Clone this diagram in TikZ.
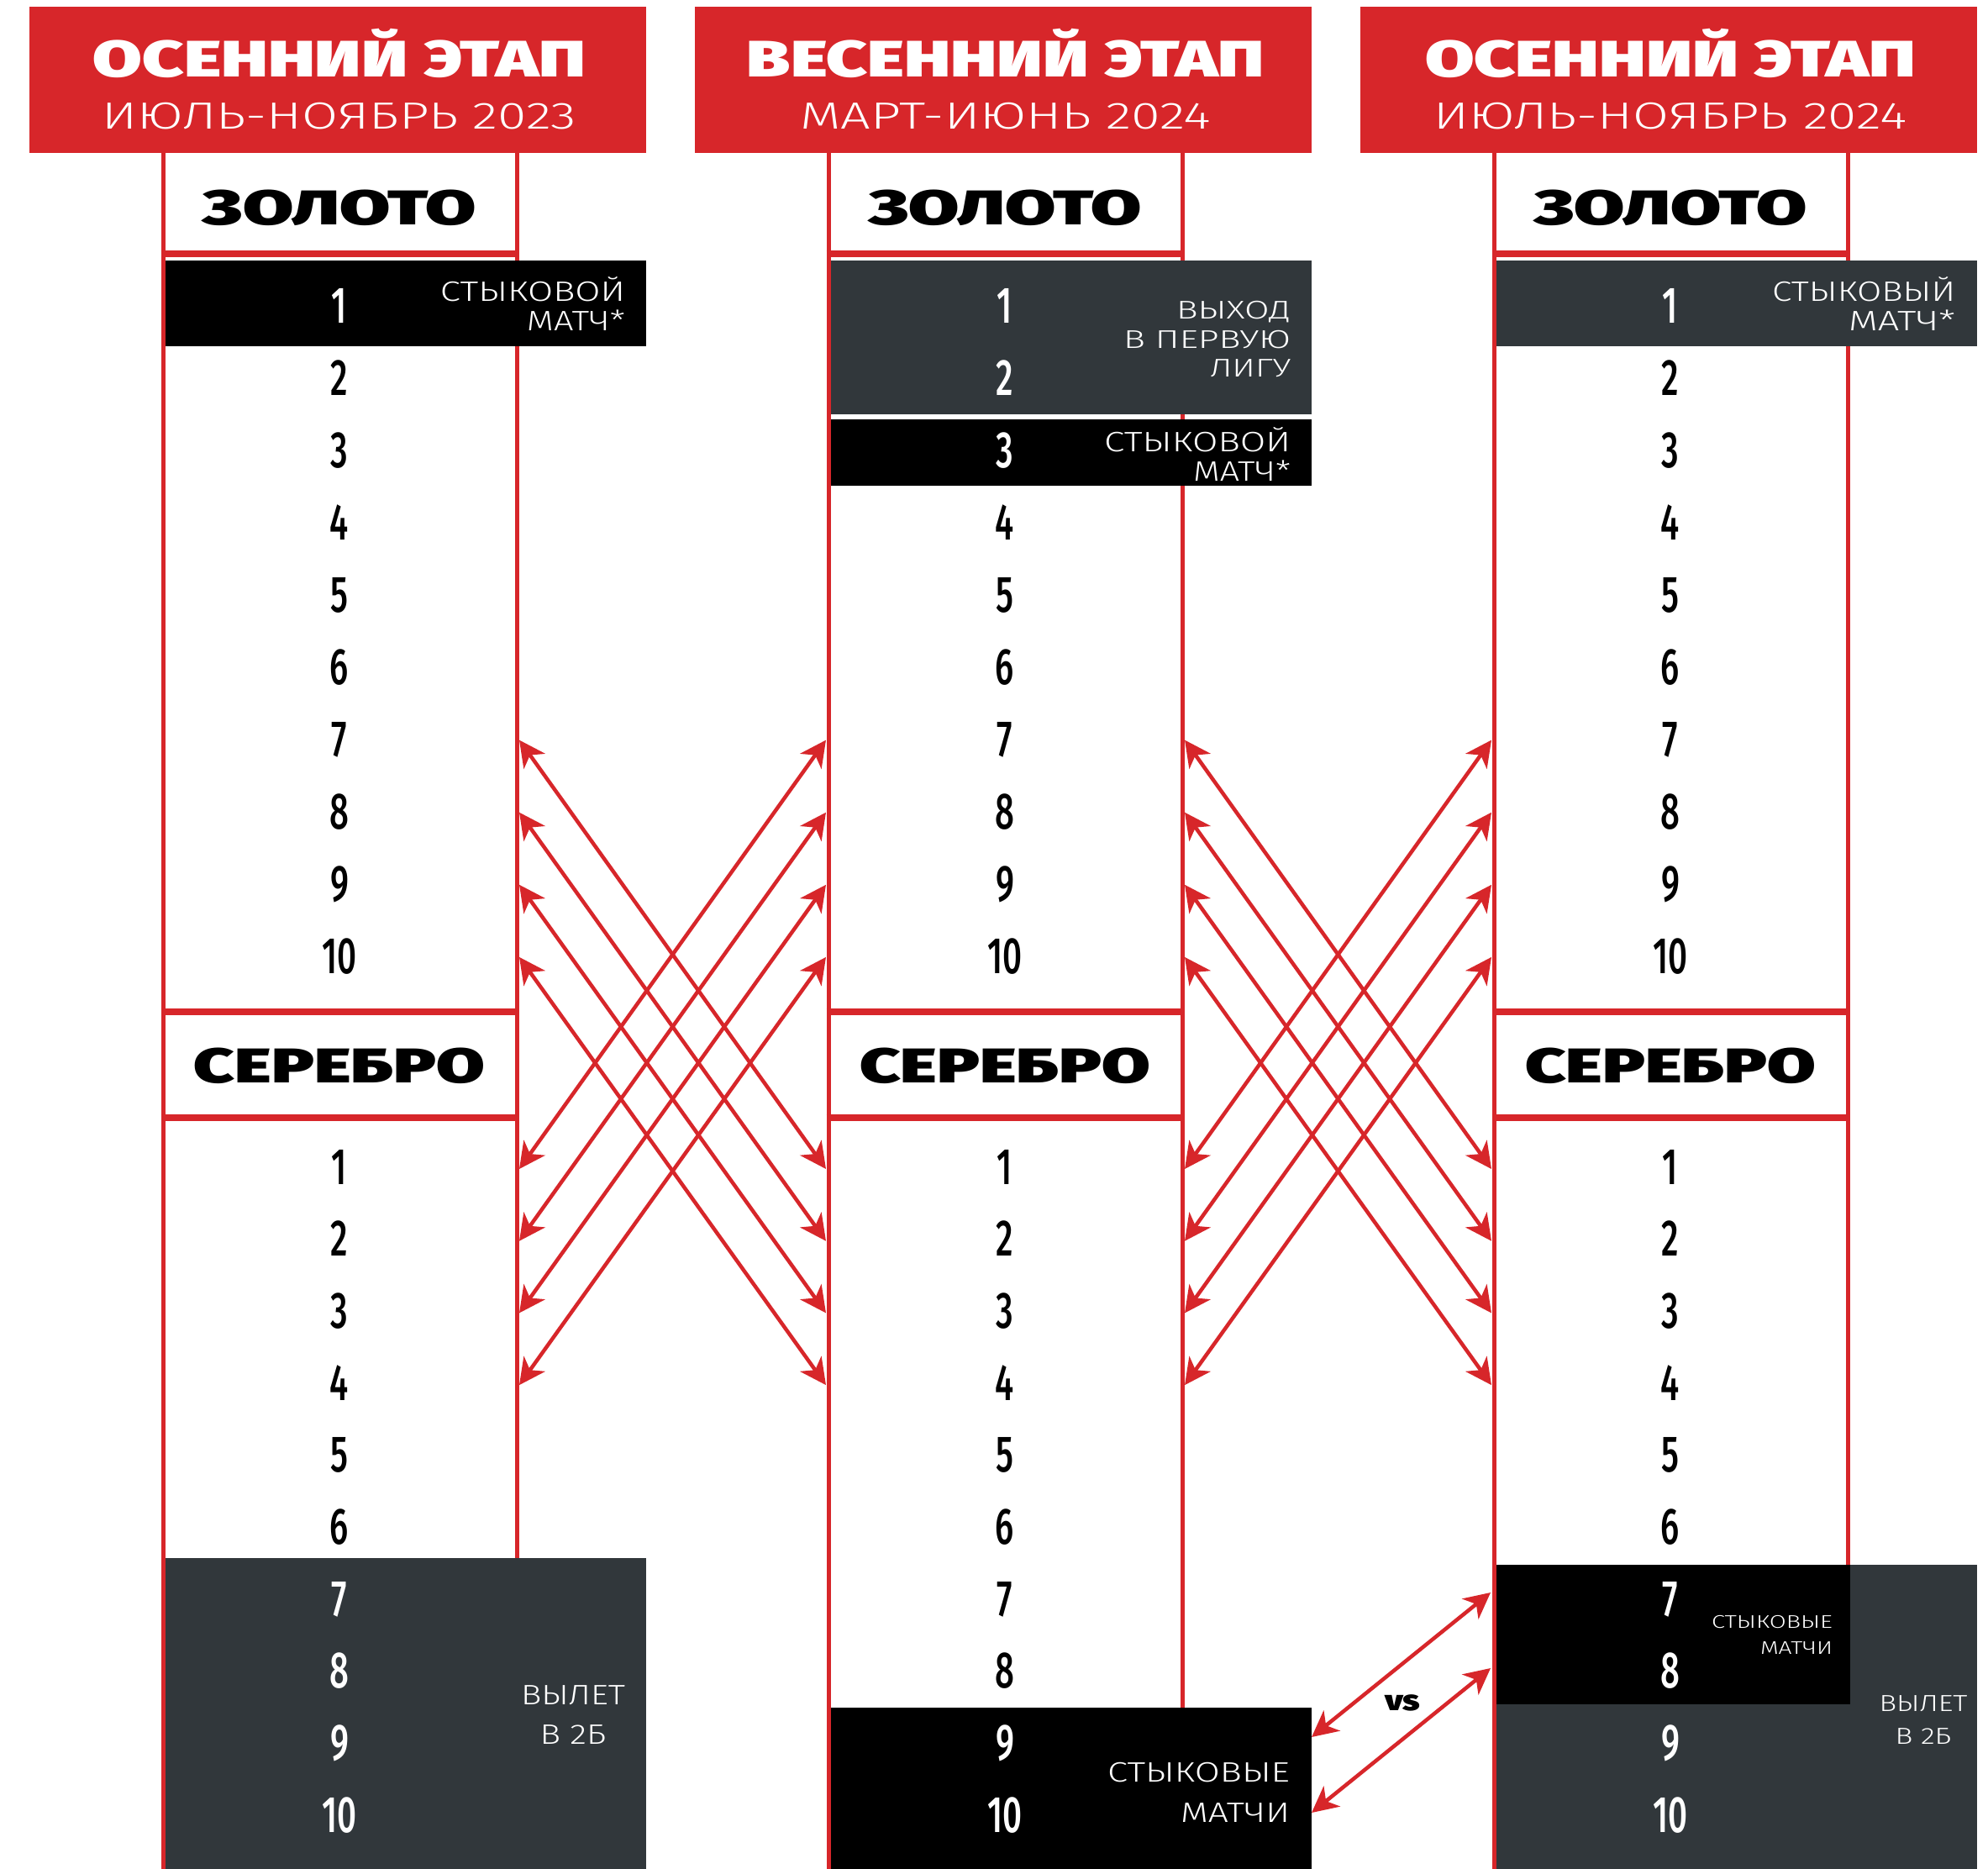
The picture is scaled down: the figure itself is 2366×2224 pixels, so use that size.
\documentclass[tikz,border=0pt]{standalone}
\usepackage{fontspec}
\usepackage{graphicx}
\usetikzlibrary{arrows.meta}
\setmainfont{Fira Sans}
\newfontfamily\heavyfont{Fira Sans Black}
\newfontfamily\lightfont{Fira Sans Light}
\newfontfamily\numfont{Fira Sans Medium}
\definecolor{redc}{RGB}{215,38,42}
\definecolor{grayc}{RGB}{49,55,59}
\newcommand\fitw[2]{\resizebox{#1}{\height}{#2}}
\newcommand\hv[2]{\fitw{#1}{\heavyfont\fontsize{61}{61}\selectfont #2}}
\newcommand\sub[2]{\fitw{#1}{\lightfont\fontsize{45}{45}\selectfont #2}}
\newcommand\blk[2]{\fitw{#1}{\heavyfont\fontsize{58}{58}\selectfont #2}}
\newcommand\lt[3]{\fitw{#2}{\lightfont\fontsize{#1}{#1}\selectfont #3}}
\newcommand\dg[1]{\scalebox{0.66}[1]{\numfont\fontsize{61}{61}\selectfont #1}}
\begin{document}
\begin{tikzpicture}[x=1pt,y=-1pt,
  vline/.style={draw=redc,line width=5pt},
  hline/.style={draw=redc,line width=8pt},
  txt/.style={inner sep=0pt,outer sep=0pt,anchor=base},
  wl/.style={txt,text=white,anchor=base east},
  wc/.style={txt,text=white},
  num/.style={txt},
  arr/.style={draw=redc,line width=4.5pt,
    {Stealth[length=31pt,width=31pt,inset=9pt]}-{Stealth[length=31pt,width=31pt,inset=9pt]}}]
\fill[white] (0,0) rectangle (2366,2224);
\useasboundingbox (0,0) rectangle (2366,2224);

% column frames
\foreach \c in {0,1,2}{
  \draw[vline] ({194+792*\c},182) -- ({194+792*\c},2224);
  \draw[vline] ({615+792*\c},182) -- ({615+792*\c},2224);
  \draw[hline] ({191.5+792*\c},302) -- ({617.5+792*\c},302);
  \draw[hline] ({191.5+792*\c},1204) -- ({617.5+792*\c},1204);
  \draw[hline] ({191.5+792*\c},1330) -- ({617.5+792*\c},1330);
  \fill[redc] ({35+792*\c},8) rectangle ({769+792*\c},182);
}

% highlighted boxes
\fill[black] (196.5,310) rectangle (769,412);
\fill[grayc] (196.5,1854) rectangle (769,2224);
\fill[grayc] (988.5,310) rectangle (1561,493);
\fill[black] (988.5,499) rectangle (1561,578);
\fill[black] (988.5,2032) rectangle (1561,2224);
\fill[grayc] (1780.5,310) rectangle (2353,412);
\fill[grayc] (1780.5,1862) rectangle (2353,2224);
\fill[black] (1780.5,1862) rectangle (2202,2028);

% headers
\node[wc] (t0) at (404,92) {\hv{586pt}{ОСЕННИЙ ЭТАП}};
\node[wc] (u0) at (404,153) {\sub{564pt}{ИЮЛЬ-НОЯБРЬ 2023}};
\node[wc] (t1) at (1197,92) {\hv{616pt}{ВЕСЕННИЙ ЭТАП}};
\node[wc] (u1) at (1197,153) {\sub{489pt}{МАРТ-ИЮНЬ 2024}};
\node[wc] (t2) at (1988,92) {\hv{584pt}{ОСЕННИЙ ЭТАП}};
\node[wc] (u2) at (1988,153) {\sub{563pt}{ИЮЛЬ-НОЯБРЬ 2024}};

% league titles
\foreach \c in {0,1,2}{
  \node[txt] (gold\c) at ({404+792*\c},267) {\blk{326pt}{ЗОЛОТО}};
  \node[txt] (silv\c) at ({404+792*\c},1288) {\blk{346pt}{СЕРЕБРО}};
}

% numbers
\foreach \c in {0,1,2}{
  \foreach \k in {1,...,10}{
    \def\tc{black}
    \ifnum\k=1 \def\tc{white}\fi
    \ifnum\c=1 \ifnum\k<4 \def\tc{white}\fi\fi
    \node[num,text=\tc] (ng\c-\k) at ({404+792*\c},{384+86.1*(\k-1)}) {\dg{\k}};
    \def\sc{black}
    \ifnum\c=1 \ifnum\k>8 \def\sc{white}\fi\else\ifnum\k>6 \def\sc{white}\fi\fi
    \node[num,text=\sc] (ns\c-\k) at ({404+792*\c},{1409+85.7*(\k-1)}) {\dg{\k}};
  }
}

% labels
\node[wl] (l01) at (744,358) {\lt{33.4}{220pt}{СТЫКОВОЙ}};
\node[wl] (l02) at (744,393) {\lt{33.4}{117pt}{МАТЧ*}};
\node[wl] (l11) at (1536,379) {\lt{30.5}{136pt}{ВЫХОД}};
\node[wl] (l12) at (1536,414) {\lt{30.5}{199pt}{В ПЕРВУЮ}};
\node[wl] (l13) at (1536,448) {\lt{30.5}{96pt}{ЛИГУ}};
\node[wl] (l14) at (1536,537) {\lt{33.4}{222pt}{СТЫКОВОЙ}};
\node[wl] (l15) at (1536,572) {\lt{33.4}{116pt}{МАТЧ*}};
\node[wl] (l21) at (2327,358) {\lt{33.4}{218pt}{СТЫКОВЫЙ}};
\node[wl] (l22) at (2327,393) {\lt{33.4}{127pt}{МАТЧ*}};
\node[wc] (m01) at (682,2028) {\lt{33.4}{124pt}{ВЫЛЕТ}};
\node[wc] (m02) at (682,2075) {\lt{33.4}{79pt}{В 2Б}};
\node[wl] (m11) at (1535,2120) {\lt{33.4}{217pt}{СТЫКОВЫЕ}};
\node[wl] (m12) at (1535,2168) {\lt{33.4}{130pt}{МАТЧИ}};
\node[wl] (m21) at (2181,1937) {\lt{21.8}{144pt}{СТЫКОВЫЕ}};
\node[wl] (m22) at (2181,1968) {\lt{21.8}{86pt}{МАТЧИ}};
\node[wc] (m23) at (2289,2036) {\lt{27.6}{105pt}{ВЫЛЕТ}};
\node[wc] (m24) at (2289,2075) {\lt{27.6}{67pt}{В 2Б}};
\node[txt] (vs) at (1669,2035) {\fitw{42pt}{\heavyfont\fontsize{34}{34}\selectfont vs}};

% arrow end points
\foreach \c in {0,1,2}{
  \foreach \k in {1,...,10}{
    \coordinate (gL\c-\k) at ({191+792*\c},{364+86.1*(\k-1)});
    \coordinate (gR\c-\k) at ({618+792*\c},{364+86.1*(\k-1)});
    \coordinate (sL\c-\k) at ({191+792*\c},{1391+85.7*(\k-1)});
    \coordinate (sR\c-\k) at ({618+792*\c},{1391+85.7*(\k-1)});
  }
}
\coordinate (vs9) at (1561,2067);
\coordinate (vs10) at (1561,2157);
\coordinate (vs7) at (1774,1895);
\coordinate (vs8) at (1774,1985);

% connectors
\foreach \c [evaluate=\c as \d using int(\c+1)] in {0,1}{
  \foreach \k [evaluate=\k as \j using int(\k-6)] in {7,...,10}{
    \draw[arr] (gR\c-\k) -- (sL\d-\j);
    \draw[arr] (gL\d-\k) -- (sR\c-\j);
  }
}
\draw[arr] (vs9) -- (vs7);
\draw[arr] (vs10) -- (vs8);
\end{tikzpicture}
\end{document}
